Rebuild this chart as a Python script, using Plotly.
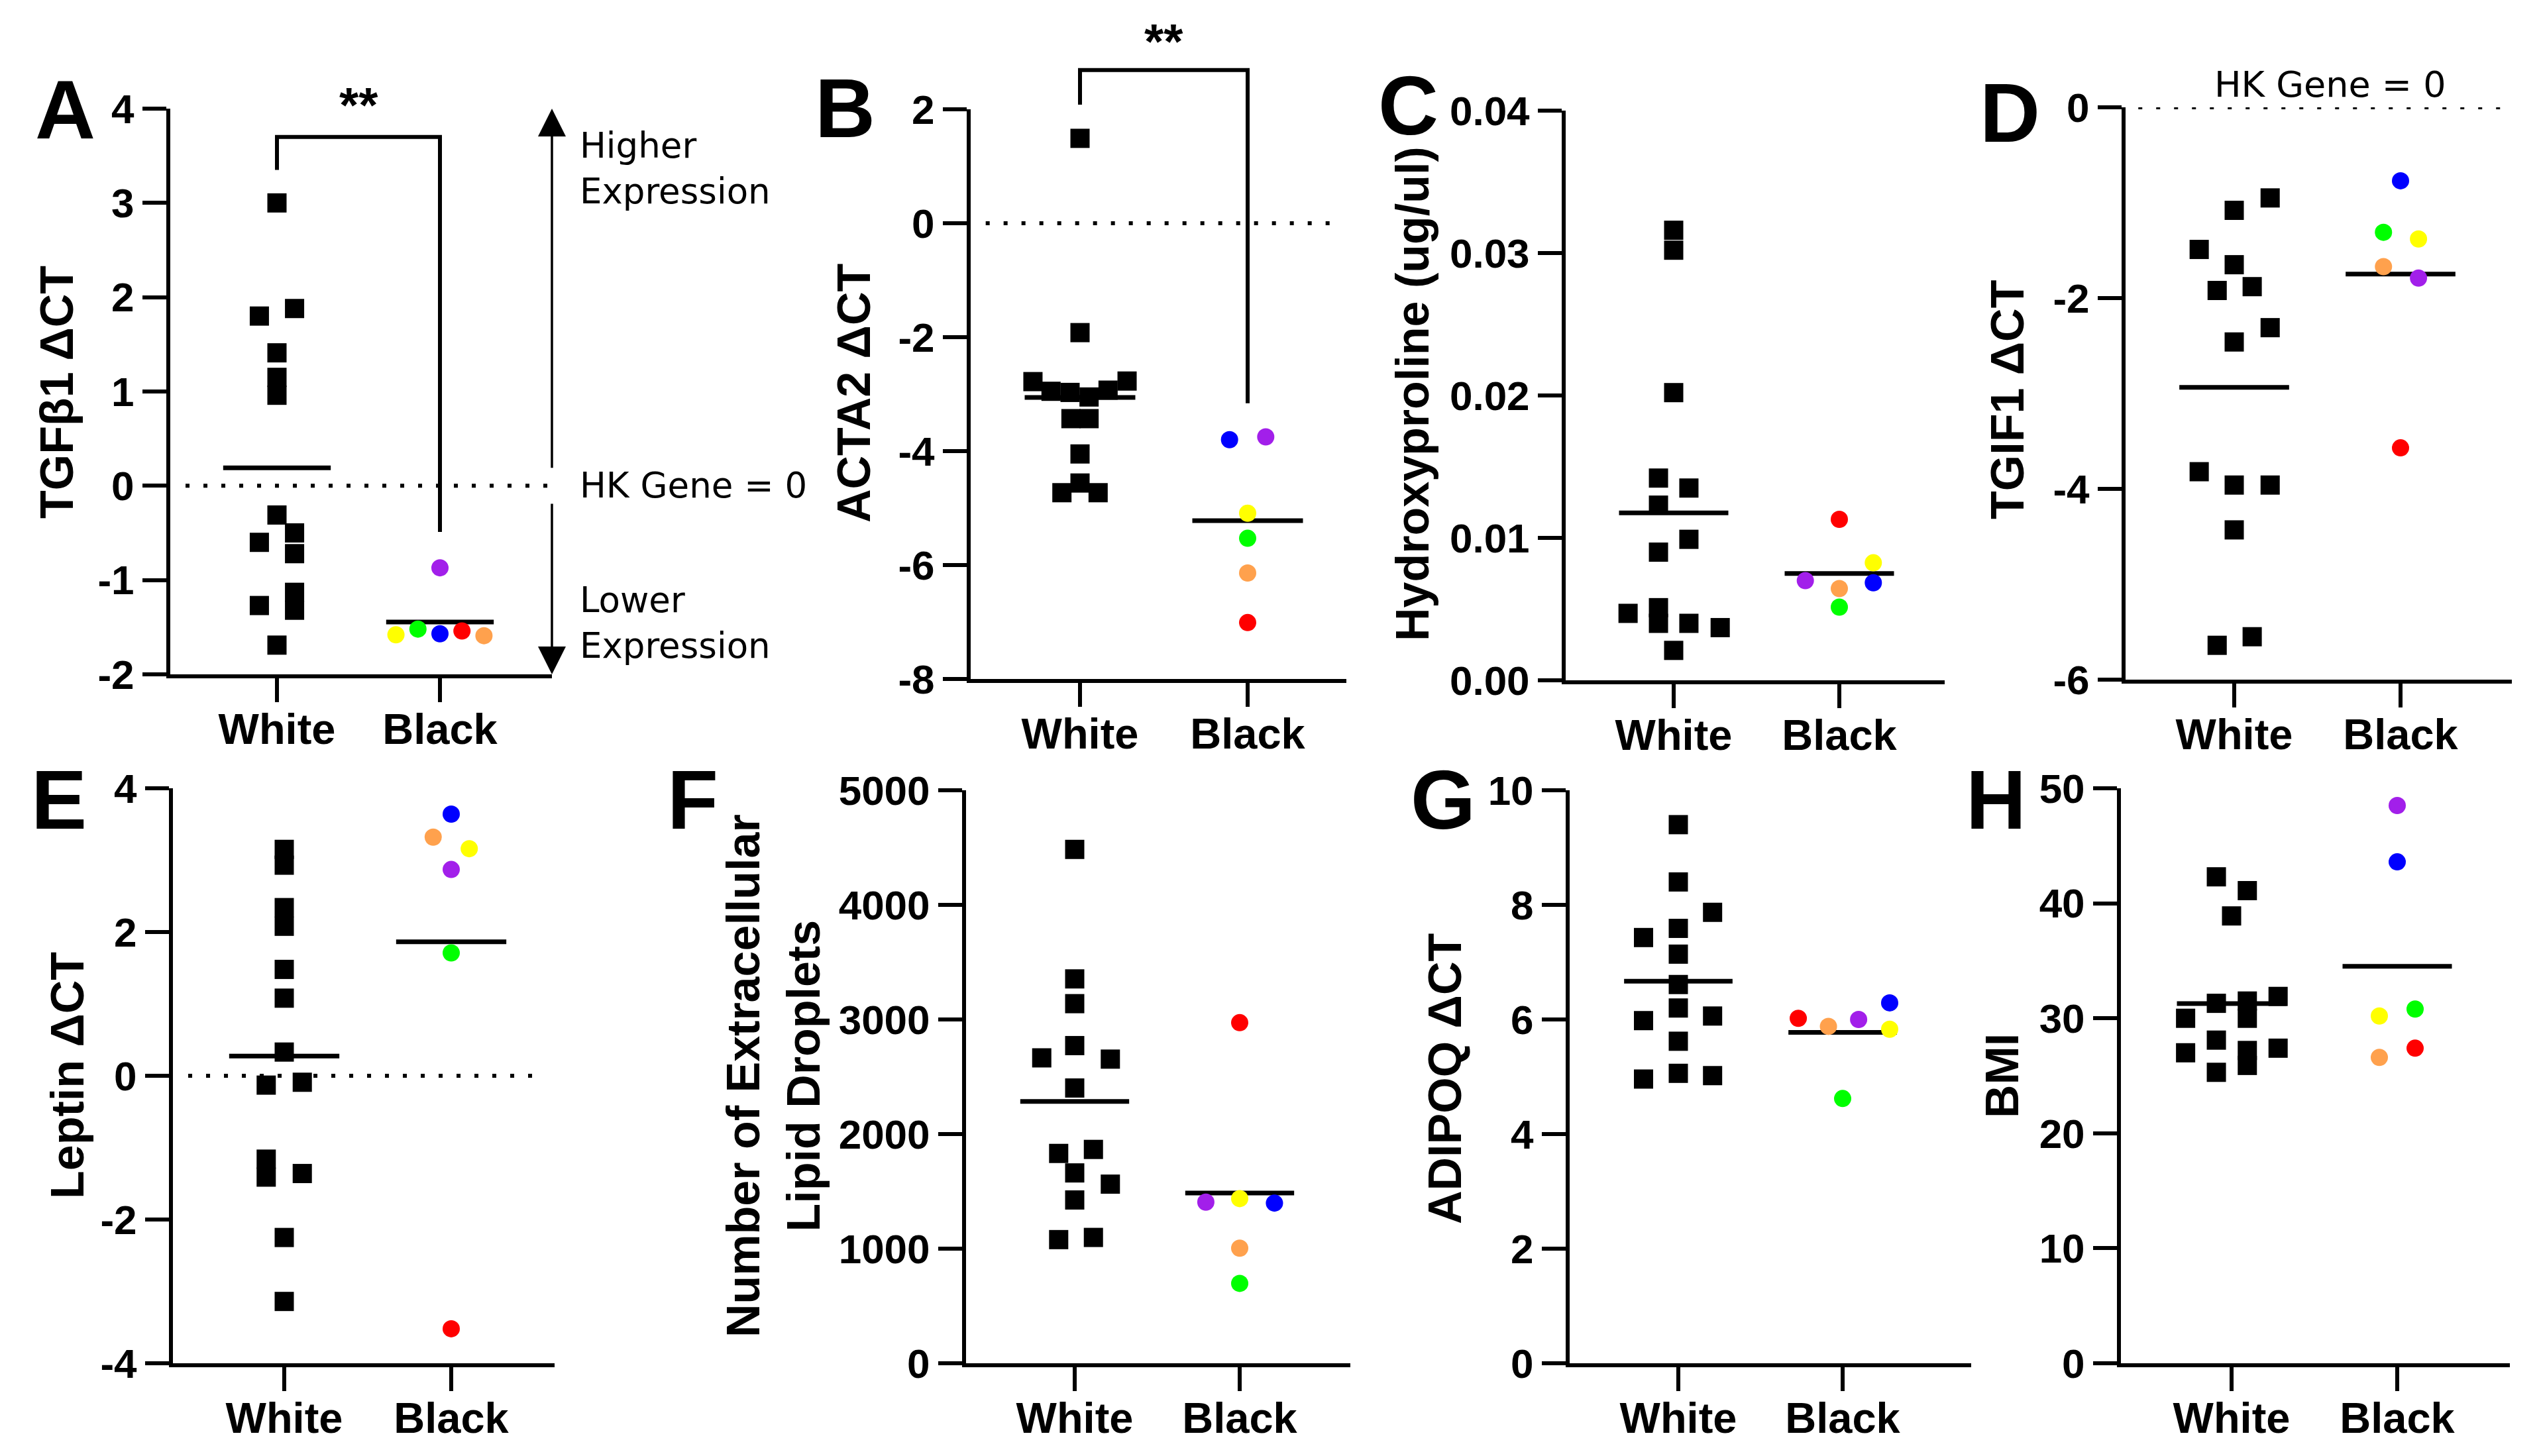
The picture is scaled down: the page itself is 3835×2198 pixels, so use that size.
import numpy as np
import plotly.graph_objects as go

W, H = 3835, 2198
FONT = "Liberation Sans, Arial, sans-serif"
SIDE_FONT = "DejaVu Sans, sans-serif"

groups = ["White", "Black"]
# one colour per Black donor, same donor order in every panel
donor_colors = ["#FF0000", "#FFA14D", "#FFFF00", "#00FF00", "#0000FF", "#A21FEA"]

# A - TGFb1
tgfb1_white = [3.00, 1.88, 1.80, 1.41, 1.15, 0.96, -0.31, -0.50, -0.60, -0.72, -1.13, -1.27, -1.32, -1.69]
tgfb1_white_jit = [0, 1, -1, 0, 0, 0, 0, 1, -1, 1, 1, -1, 1, 0]
tgfb1_black = [-1.54, -1.59, -1.58, -1.52, -1.57, -0.87]
tgfb1_black_jit = [1.25, 2.5, -2.5, -1.25, 0, 0]
tgfb1_ticks = [-2, -1, 0, 1, 2, 3, 4]

# B - ACTA2
acta2_white = [1.49, -1.92, -2.78, -2.95, -2.97, -3.05, -2.93, -2.77, -3.43, -3.43, -4.05, -4.56, -4.73, -4.73]
acta2_white_jit = [0, 0, -2.6, -1.6, -0.55, 0.5, 1.55, 2.6, -0.5, 0.5, 0, 0, -1, 1]
acta2_black = [-7.01, -6.14, -5.09, -5.53, -3.80, -3.75]
acta2_black_jit = [0, 0, 0, 0, -1, 1]
acta2_ticks = [-8, -6, -4, -2, 0, 2]

# C - hydroxyproline
hyp_white = [0.0316, 0.0302, 0.0202, 0.0142, 0.0135, 0.0123, 0.0099, 0.0090,
             0.0051, 0.0047, 0.0040, 0.0040, 0.0037, 0.0021]
hyp_white_jit = [0, 0, 0, -0.85, 0.85, -0.85, 0.85, -0.85, -0.85, -2.55, -0.85, 0.85, 2.6, 0]
hyp_black = [0.0113, 0.00644, 0.00825, 0.00514, 0.00685, 0.00700]
hyp_black_jit = [0, 0, 1.9, 0, 1.9, -1.9]
hyp_ticks = [0.0, 0.01, 0.02, 0.03, 0.04]

# D - TGIF1
tgif1_white = [-0.95, -1.08, -1.49, -1.65, -1.88, -1.92, -2.31, -2.46, -3.82, -3.96, -3.96, -4.43, -5.55, -5.64]
tgif1_white_jit = [2, 0, -1.95, 0, 1, -0.95, 2, 0, -1.95, 0, 2, 0, 1, -0.95]
tgif1_black = [-3.57, -1.67, -1.38, -1.31, -0.77, -1.79]
tgif1_black_jit = [0, -0.95, 1, -0.95, 0, 1]
tgif1_ticks = [-6, -4, -2, 0]

# E - leptin
leptin_white = [3.15, 2.93, 2.34, 2.08, 1.48, 1.08, 0.33, -0.13, -0.09, -1.16, -1.41, -1.36, -2.25, -3.14]
leptin_white_jit = [0, 0, 0, 0, 0, 0, 0, -1, 1, -1, -1, 1, 0, 0]
leptin_black = [-3.52, 3.32, 3.16, 1.71, 3.64, 2.87]
leptin_black_jit = [0, -1, 1, 0, 0, 0]
leptin_ticks = [-4, -2, 0, 2, 4]

# F - extracellular lipid droplets
lipid_white = [4484, 3354, 3138, 2772, 2665, 2654, 2402, 1866, 1831, 1661, 1563, 1425, 1079, 1098]
lipid_white_jit = [0, 0, 0, 0, -1.85, 2, 0, 1.05, -0.9, 0, 2, 0, -0.9, 1.05]
lipid_black = [2972, 1004, 1437, 697, 1398, 1406]
lipid_black_jit = [0, 0, 0, 0, 1.95, -1.9]
lipid_ticks = [0, 1000, 2000, 3000, 4000, 5000]

# G - ADIPOQ
adipoq_white = [9.40, 8.40, 7.87, 7.59, 7.43, 7.14, 6.61, 6.20, 6.06, 5.98, 5.62, 5.06, 5.02, 4.96]
adipoq_white_jit = [0, 0, 1.93, 0, -1.96, 0, 0, 0, 1.93, -1.96, 0, 0, 1.93, -1.96]
adipoq_black = [6.02, 5.88, 5.83, 4.62, 6.29, 6.00]
adipoq_black_jit = [-2.5, -0.8, 2.65, 0, 2.65, 0.9]
adipoq_ticks = [0, 2, 4, 6, 8, 10]

# H - BMI
bmi_white = [42.3, 41.1, 38.9, 31.9, 31.3, 31.5, 30.0, 30.0, 28.1, 27.4, 27.0, 27.2, 25.9, 25.3]
bmi_white_jit = [-0.85, 0.88, 0, 2.6, -0.85, 0.88, 0.88, -2.57, -0.85, 2.6, -2.57, 0.88, 0.88, -0.85]
bmi_black = [27.4, 26.6, 30.2, 30.8, 43.6, 48.5]
bmi_black_jit = [1, -1, -1, 1, 0, 0]
bmi_ticks = [0, 10, 20, 30, 40, 50]

# box = (y-axis x, White x, Black x, x-axis end, top y, bottom y) in pixels
panels = [
    dict(tag="A", title="TGFβ1 ΔCT", w=tgfb1_white, wj=tgfb1_white_jit, b=tgfb1_black, bj=tgfb1_black_jit,
         ticks=tgfb1_ticks, fmt="{:g}", box=(257, 418, 664, 833, 164, 1018),
         tag_xy=(98, 165), title_xy=(86, 592), zero=(0.04, 0.99)),
    dict(tag="B", title="ACTA2 ΔCT", w=acta2_white, wj=acta2_white_jit, b=acta2_black, bj=acta2_black_jit,
         ticks=acta2_ticks, fmt="{:g}", box=(1465, 1630, 1883, 2032, 165, 1025),
         tag_xy=(1275, 163), title_xy=(1289, 594), zero=(0.04, 0.99)),
    dict(tag="C", title="Hydroxyproline (ug/ul)", w=hyp_white, wj=hyp_white_jit, b=hyp_black, bj=hyp_black_jit,
         ticks=hyp_ticks, fmt="{:.2f}", box=(2363, 2526, 2776, 2935, 167, 1027),
         tag_xy=(2125, 160), title_xy=(2132, 595), zero=None),
    dict(tag="D", title="TGIF1 ΔCT", w=tgif1_white, wj=tgif1_white_jit, b=tgif1_black, bj=tgif1_black_jit,
         ticks=tgif1_ticks, fmt="{:g}", box=(3208, 3372, 3623, 3791, 162, 1026),
         tag_xy=(3033, 170), title_xy=(3030, 604), zero=(0.033, 1.0)),
    dict(tag="E", title="Leptin ΔCT", w=leptin_white, wj=leptin_white_jit, b=leptin_black, bj=leptin_black_jit,
         ticks=leptin_ticks, fmt="{:g}", box=(261, 429, 681, 837, 1190, 2058),
         tag_xy=(89, 1207), title_xy=(102, 1624), zero=(0.04, 0.976)),
    dict(tag="F", title="Number of Extracellular<br>Lipid Droplets", w=lipid_white, wj=lipid_white_jit,
         b=lipid_black, bj=lipid_black_jit, ticks=lipid_ticks, fmt="{:g}", box=(1458, 1622, 1871, 2038, 1193, 2058),
         tag_xy=(1045, 1207), title_xy=(1168, 1624), zero=None),
    dict(tag="G", title="ADIPOQ ΔCT", w=adipoq_white, wj=adipoq_white_jit, b=adipoq_black, bj=adipoq_black_jit,
         ticks=adipoq_ticks, fmt="{:g}", box=(2369, 2533, 2781, 2975, 1193, 2058),
         tag_xy=(2178, 1207), title_xy=(2181, 1629), zero=None),
    dict(tag="H", title="BMI", w=bmi_white, wj=bmi_white_jit, b=bmi_black, bj=bmi_black_jit,
         ticks=bmi_ticks, fmt="{:g}", box=(3201, 3368, 3618, 3788, 1190, 2058),
         tag_xy=(3012, 1207), title_xy=(3022, 1624), zero=None),
]

# significance brackets: (left leg end, bracket top, right leg end, star y) in data units
brackets = {"A": (3.35, 3.70, -0.49, 4.04), "B": (2.08, 2.69, -3.16, 3.20)}

SLOT = 0.108   # jitter step, in category units
HALF = 0.33    # half width of the mean line

fig = go.Figure()
shapes, notes = [], []

for i, p in enumerate(panels):
    n = "" if i == 0 else str(i + 1)
    xa, ya = "x" + n, "y" + n
    left, cw, cb, right, top, bottom = p["box"]
    span = cb - cw
    xr = [-(cw - left) / span, 1 + (right - cb) / span]
    lo, hi = p["ticks"][0], p["ticks"][-1]
    f = lambda v: (v - lo) / (hi - lo)

    for c, vals in enumerate([p["w"], p["b"]]):
        m = float(np.mean(vals))
        fig.add_trace(go.Scatter(x=[c - HALF, c + HALF], y=[m, m], mode="lines",
                                 line=dict(color="black", width=7), xaxis=xa, yaxis=ya,
                                 showlegend=False, hoverinfo="skip"))
    fig.add_trace(go.Scatter(x=[j * SLOT for j in p["wj"]], y=p["w"], mode="markers",
                             marker=dict(symbol="square", size=29, color="black", line=dict(width=0)),
                             xaxis=xa, yaxis=ya, showlegend=False, cliponaxis=False))
    fig.add_trace(go.Scatter(x=[1 + j * SLOT for j in p["bj"]], y=p["b"], mode="markers",
                             marker=dict(symbol="circle", size=26, color=donor_colors, line=dict(width=0)),
                             xaxis=xa, yaxis=ya, showlegend=False, cliponaxis=False))

    axis_common = dict(showline=True, linewidth=6, linecolor="black", ticks="outside",
                       ticklen=36, tickwidth=6, tickcolor="black", showgrid=False,
                       zeroline=False, fixedrange=True, automargin=False)
    fig.layout["xaxis" + n] = dict(
        axis_common, domain=[left / W, right / W], range=xr, anchor=ya,
        tickvals=[0, 1], ticktext=groups, ticklabelstandoff=-15,
        tickfont=dict(family=FONT, size=65, color="black", weight="bold"))
    fig.layout["yaxis" + n] = dict(
        axis_common, domain=[1 - bottom / H, 1 - top / H], range=[lo, hi], anchor=xa,
        tickvals=p["ticks"], ticktext=[p["fmt"].format(t) for t in p["ticks"]],
        tickfont=dict(family=FONT, size=62, color="black", weight="bold"))

    # panel letter and y title
    notes.append(dict(text=p["tag"], x=p["tag_xy"][0] / W, y=1 - p["tag_xy"][1] / H,
                      xref="paper", yref="paper", showarrow=False, xanchor="center", yanchor="middle",
                      font=dict(family=FONT, size=126, color="black", weight="bold")))
    notes.append(dict(text=p["title"], x=p["title_xy"][0] / W, y=1 - p["title_xy"][1] / H,
                      xref="paper", yref="paper", showarrow=False, textangle=-90,
                      xanchor="center", yanchor="middle",
                      font=dict(family=FONT, size=70, color="black", weight="bold")))

    if p["zero"]:
        shapes.append(dict(type="line", xref=xa + " domain", yref=ya, x0=p["zero"][0], x1=p["zero"][1],
                           y0=0, y1=0, line=dict(color="black", width=6, dash="6px,21px")))

    if p["tag"] in brackets:
        l_end, b_top, r_end, star_y = brackets[p["tag"]]
        shapes.append(dict(type="path", xref=xa, yref=ya + " domain",
                           path=f"M0,{f(l_end)} L0,{f(b_top)} L1,{f(b_top)} L1,{f(r_end)}",
                           line=dict(color="black", width=6)))
        notes.append(dict(text="**", x=0.5, y=f(star_y), xref=xa, yref=ya + " domain", showarrow=False,
                          xanchor="center", yanchor="middle",
                          font=dict(family=FONT, size=75, color="black", weight="bold")))

# expression arrow and labels beside panel A
for tip, tail in [(4, 0.18), (-2, -0.18)]:
    notes.append(dict(text="", x=1.0, y=tip, xref="x domain", yref="y", ax=1.0, ay=tail,
                      axref="x domain", ayref="y", showarrow=True, arrowhead=2, arrowsize=2.4,
                      arrowwidth=3.5, arrowcolor="black", standoff=0, startstandoff=0))
side_font = dict(family=SIDE_FONT, size=53, color="black")
for txt, yy in [("Higher<br>Expression", 254), ("HK Gene = 0", 733), ("Lower<br>Expression", 940)]:
    notes.append(dict(text=txt, x=873 / W, y=1 - yy / H, xref="paper", yref="paper", showarrow=False,
                      xanchor="left", yanchor="middle", align="left", font=side_font))
notes.append(dict(text="HK Gene = 0", x=3517 / W, y=1 - 127 / H, xref="paper", yref="paper",
                  showarrow=False, xanchor="center", yanchor="middle",
                  font=dict(side_font, size=54)))

fig.update_layout(width=W, height=H, margin=dict(l=0, r=0, t=0, b=0, autoexpand=False),
                  paper_bgcolor="white", plot_bgcolor="white",
                  shapes=shapes, annotations=notes, showlegend=False)

fig.write_html("out.html", config={"displayModeBar": False},
               post_script="document.body.style.margin='0';")
